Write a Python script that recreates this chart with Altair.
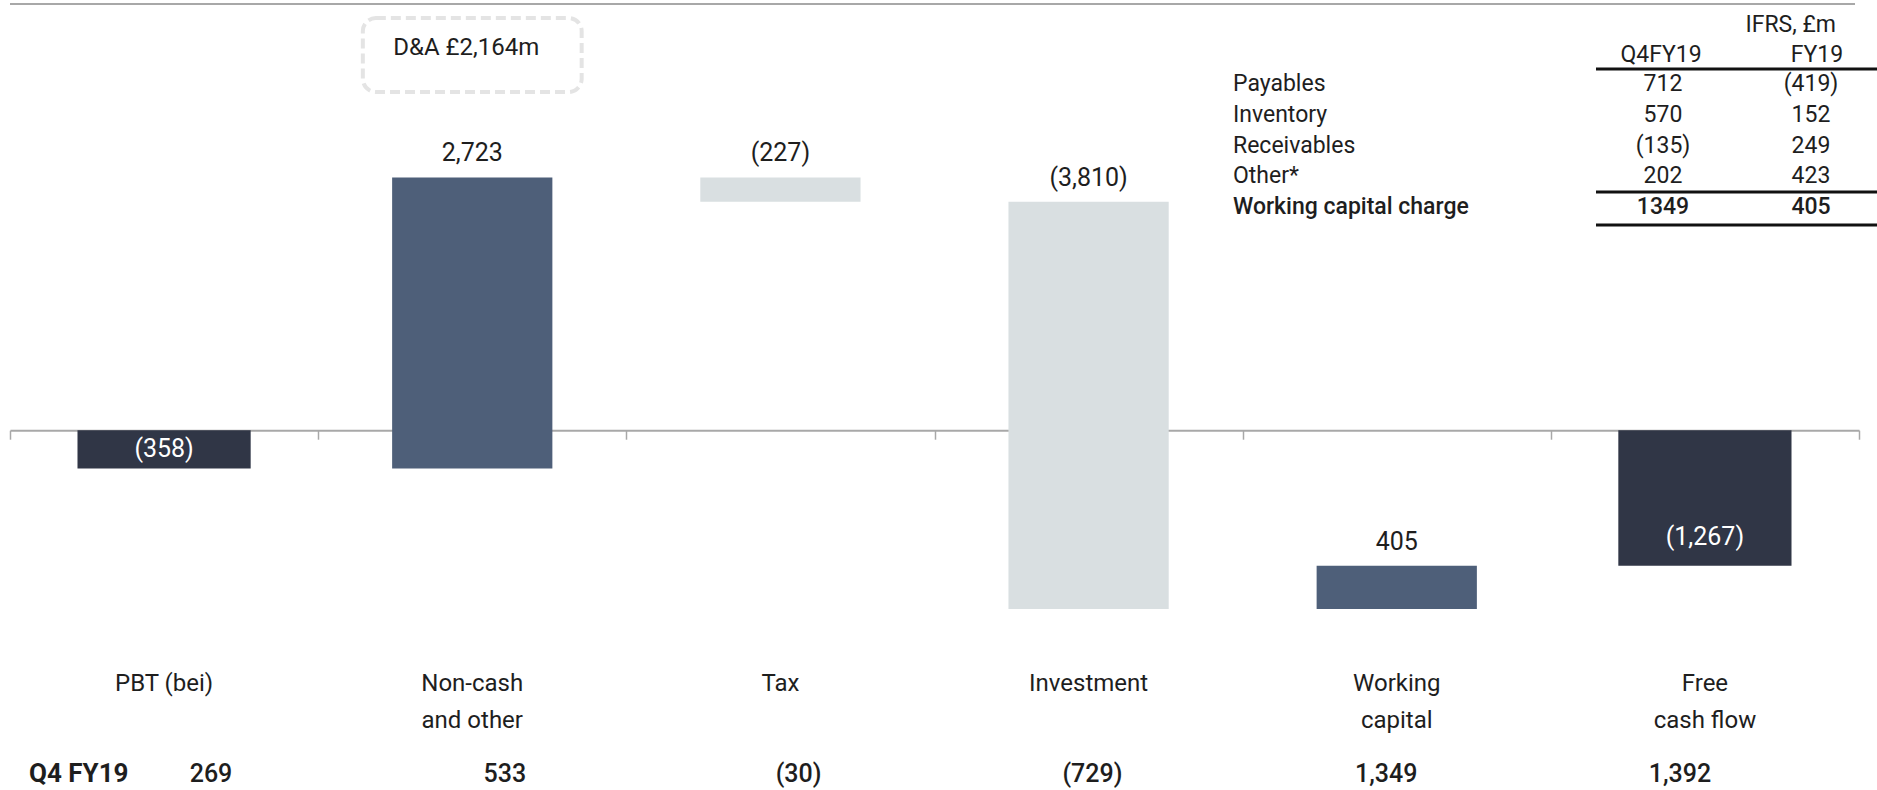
import altair as alt
import pandas as pd

# ---------------- data ----------------
categories = ["PBT (bei)", "Non-cash\nand other", "Tax", "Investment", "Working\ncapital", "Free\ncash flow"]
changes = [-358, 2723, -227, -3810, 405, -1267]
kinds = ["total", "delta", "delta", "delta", "delta", "total"]

q4_label = "Q4 FY19"
q4_values = [269, 533, -30, -729, 1349, 1392]

da_label = "D&A £2,164m"

table_unit = "IFRS, £m"
table_cols = ["Q4FY19", "FY19"]
table_rows = ["Payables", "Inventory", "Receivables", "Other*", "Working capital charge"]
table_q4 = [712, 570, -135, 202, 1349]
table_fy = [-419, 152, 249, 423, 405]


def paren(v, sep=True):
    s = f"{abs(v):,}" if sep else f"{abs(v)}"
    return f"({s})" if v < 0 else s


# waterfall geometry from the values
recs = []
run = 0
for i, (c, v, k) in enumerate(zip(categories, changes, kinds)):
    if k == "total":
        s, e = 0, v
    else:
        s, e = run, run + v
    run = e
    kind = "total" if k == "total" else ("up" if v > 0 else "down")
    recs.append(dict(idx=i, cat=c, start=s, end=e, kind=kind, label=paren(v)))
bars_df = pd.DataFrame(recs)

# ---------------- style ----------------
W, H = 1849, 751
FONT = "Roboto"
TXT = "#1e1e1e"
ZERO_PX = 430.2

xscale = alt.Scale(domain=[0, 6], nice=False, zero=False)
yscale = alt.Scale(domain=[-3000, 4024], nice=False, zero=False)

base = alt.Chart(bars_df).transform_calculate(
    center="datum.idx + 0.5",
    half="datum.kind == 'total' ? 0.281 : 0.26",
).transform_calculate(
    x0="datum.center - datum.half",
    x1="datum.center + datum.half",
    top="max(datum.start, datum.end)",
    bottom="min(datum.start, datum.end)",
).transform_calculate(
    inside="datum.bottom + min((datum.top - datum.bottom) / 2, 270)",
)

bars = base.mark_bar().encode(
    x=alt.X(
        "x0:Q",
        scale=xscale,
        axis=alt.Axis(
            values=[0, 1, 2, 3, 4, 5, 6],
            tickSize=9,
            labels=False,
            title=None,
            grid=False,
            domainColor="#a8a8a8",
            domainWidth=2,
            tickColor="#a8a8a8",
            tickWidth=1.5,
            offset=-(H - ZERO_PX),
            orient="bottom",
        ),
    ),
    x2="x1:Q",
    y=alt.Y("start:Q", scale=yscale, axis=None),
    y2="end:Q",
    color=alt.Color(
        "kind:N",
        scale=alt.Scale(domain=["total", "up", "down"], range=["#303646", "#4e5f79", "#d9dfe1"]),
        legend=None,
    ),
)

delta_labels = base.transform_filter("datum.kind != 'total'").mark_text(
    font=FONT, fontSize=25, color=TXT, baseline="middle", dy=-24
).encode(
    x=alt.X("center:Q", scale=xscale),
    y=alt.Y("top:Q", scale=yscale),
    text="label:N",
)

total_labels = base.transform_filter("datum.kind == 'total'").mark_text(
    font=FONT, fontSize=25, color="white", baseline="middle"
).encode(
    x=alt.X("center:Q", scale=xscale),
    y=alt.Y("inside:Q", scale=yscale),
    text="label:N",
)

cat_labels = base.mark_text(
    font=FONT, fontSize=24, color=TXT, baseline="alphabetic", lineBreak="\n", lineHeight=37
).encode(
    x=alt.X("center:Q", scale=xscale),
    y=alt.value(691),
    text="cat:N",
)

note_df = pd.DataFrame({"idx": [1], "note": [da_label]})
note_base = alt.Chart(note_df).transform_calculate(
    center="datum.idx + 0.5"
).transform_calculate(
    x0="datum.center - 0.355", x1="datum.center + 0.355"
)
box = note_base.mark_rect(
    fill="white", fillOpacity=0, stroke="#e4e4e4", strokeWidth=4, strokeDash=[10, 5], cornerRadius=13
).encode(
    x=alt.X("x0:Q", scale=xscale),
    x2="x1:Q",
    y=alt.value(18),
    y2=alt.value(92),
)
note_text = note_base.mark_text(font=FONT, fontSize=24, color=TXT, baseline="middle", dx=-6).encode(
    x=alt.X("center:Q", scale=xscale),
    y=alt.value(48),
    text="note:N",
)

top_line = alt.Chart(pd.DataFrame({"a": [0]})).mark_rule(color="#a8a8a8", strokeWidth=2).encode(
    x=alt.value(0), x2=alt.value(1845), y=alt.value(4)
)

main = alt.layer(top_line, bars, box, note_text, delta_labels, total_labels, cat_labels)

# ---------------- Q4 FY19 row ----------------
q4_df = pd.DataFrame({"cat": categories, "val": [paren(v) for v in q4_values]})
q4_row = alt.Chart(q4_df).mark_text(
    font=FONT, fontSize=25, fontWeight=500, color=TXT, baseline="middle"
).encode(
    x=alt.X("cat:N", sort=None, scale=alt.Scale(type="point", range=[201, 1670], padding=0), axis=None),
    y=alt.value(774),
    text="val:N",
)
q4_title = alt.Chart(pd.DataFrame({"t": [q4_label]})).mark_text(
    font=FONT, fontSize=26, fontWeight="bold", color=TXT, align="left", baseline="middle"
).encode(x=alt.value(19), y=alt.value(774), text="t:N")
q4_group = alt.layer(q4_title, q4_row)

# ---------------- working-capital table ----------------
tbl_df = pd.DataFrame({
    "i": list(range(len(table_rows))),
    "row": table_rows,
    "q4": [paren(v, False) for v in table_q4],
    "fy": [paren(v, False) for v in table_fy],
})
yt = alt.Y("row:N", sort=None, scale=alt.Scale(type="point", range=[84, 207], padding=0), axis=None)
tbase = alt.Chart(tbl_df)
last = len(table_rows) - 1


def tcol(field, xpx, align, weight, cond):
    return tbase.transform_filter(cond).mark_text(
        font=FONT, fontSize=23, fontWeight=weight, color=TXT, align=align, baseline="middle"
    ).encode(x=alt.value(xpx), y=yt, text=f"{field}:N")


norm = f"datum.i < {last}"
bold = f"datum.i == {last}"
tbl_layers = [
    tcol("row", 1223, "left", 400, norm),
    tcol("q4", 1653, "center", 400, norm),
    tcol("fy", 1801, "center", 400, norm),
    tcol("row", 1223, "left", 500, bold),
    tcol("q4", 1653, "center", 500, bold),
    tcol("fy", 1801, "center", 500, bold),
]

hdr = alt.Chart(pd.DataFrame({"t": [table_unit]})).mark_text(
    font=FONT, fontSize=23, color=TXT, align="right", baseline="middle"
).encode(x=alt.value(1826), y=alt.value(25), text="t:N")
hdr_q4 = alt.Chart(pd.DataFrame({"t": [table_cols[0]]})).mark_text(
    font=FONT, fontSize=23, color=TXT, align="center", baseline="middle"
).encode(x=alt.value(1651), y=alt.value(55), text="t:N")
hdr_fy = alt.Chart(pd.DataFrame({"t": [table_cols[1]]})).mark_text(
    font=FONT, fontSize=23, color=TXT, align="center", baseline="middle"
).encode(x=alt.value(1807), y=alt.value(55), text="t:N")


def hline(ypx):
    return alt.Chart(pd.DataFrame({"a": [0]})).mark_rule(color="#111111", strokeWidth=3).encode(
        x=alt.value(1586), x2=alt.value(1867), y=alt.value(ypx)
    )


table = alt.layer(hdr, hdr_q4, hdr_fy, hline(69), hline(192), hline(225), *tbl_layers)

chart = alt.layer(main, q4_group, table).resolve_scale(
    x="independent", y="independent"
).properties(
    width=W,
    height=H,
    autosize=alt.AutoSizeParams(type="none"),
    padding={"left": 10, "top": 0, "right": 18, "bottom": 39},
    background="white",
).configure_view(stroke=None)

chart.save("out.html", embed_options={"renderer": "svg", "actions": False})
